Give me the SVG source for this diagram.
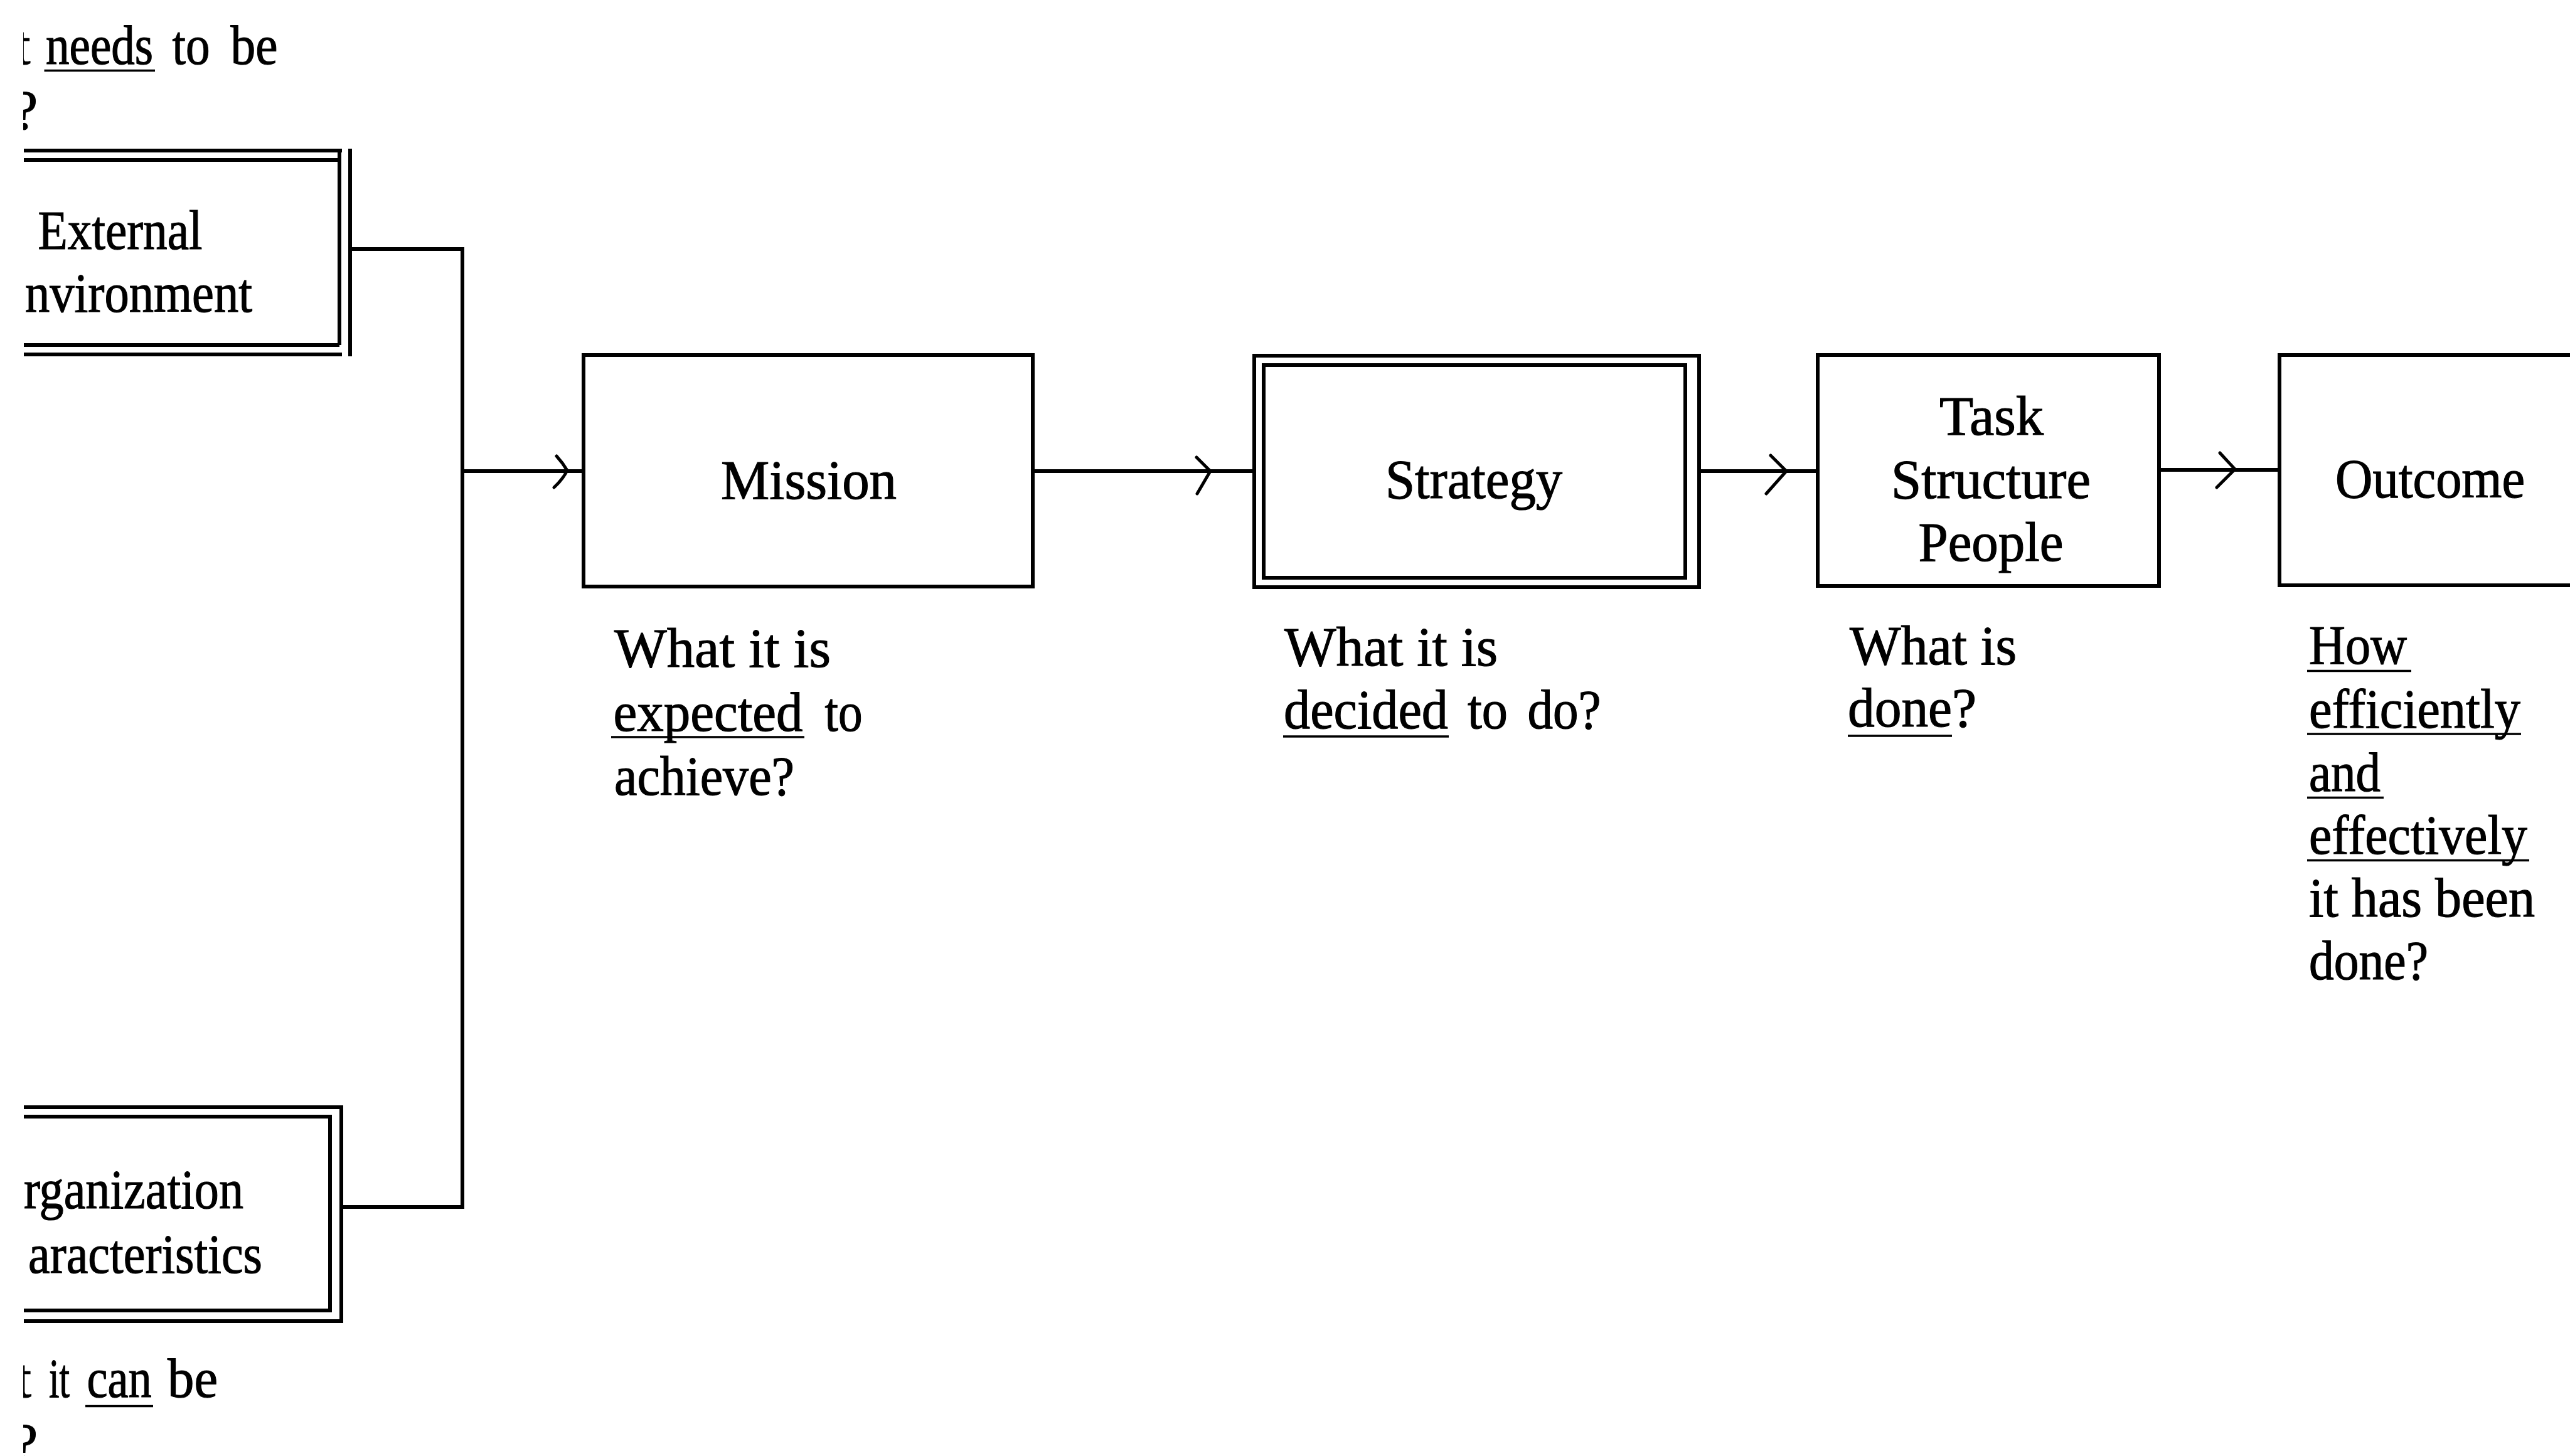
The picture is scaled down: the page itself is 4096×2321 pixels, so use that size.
<svg xmlns="http://www.w3.org/2000/svg" width="4096" height="2321" viewBox="0 0 4096 2321">
  <style>
    .frame { fill: none; stroke: #000; stroke-width: 6; }
    .wire { fill: none; stroke: #000; stroke-width: 6; }
    .head { fill: none; stroke: #000; stroke-width: 5; stroke-linecap: round; stroke-linejoin: round; }
    .ul { stroke: #000; stroke-width: 3.5; }
    text { font-family: "Liberation Serif", "Times New Roman", serif; font-size: 88px; fill: #000; stroke: #000; stroke-width: 1.2; }
    .mid { text-anchor: middle; }
  </style>
  <defs>
    <clipPath id="page">
      <rect x="37" y="0" width="4059" height="2321"/>
    </clipPath>
  </defs>
  <rect width="4096" height="2321" fill="#fff"/>

  <g id="external-environment" clip-path="url(#page)">
    <path class="frame" d="M38,240 H545 M38,255 H541 M541,237 V550 M38,550 H541 M38,565 H545 M558,237 V568"/>
    <text x="60.5" y="397" textLength="262" lengthAdjust="spacingAndGlyphs">External</text>
    <text x="40" y="497" textLength="362" lengthAdjust="spacingAndGlyphs">nvironment</text>
    <text y="102"><tspan x="24">t</tspan> <tspan x="73" textLength="171" lengthAdjust="spacingAndGlyphs">needs</tspan> <tspan x="274.5" textLength="60" lengthAdjust="spacingAndGlyphs">to</tspan> <tspan x="367.5" textLength="75" lengthAdjust="spacingAndGlyphs">be</tspan></text>
    <line class="ul" x1="70.5" y1="112.5" x2="247" y2="112.5"/>
    <text x="21" y="205">?</text>
  </g>

  <g id="organization-characteristics" clip-path="url(#page)">
    <path class="frame" d="M38,1765 H544 V2106 H38 M38,1780 H526 V2089 H38"/>
    <text x="38" y="1926" textLength="350" lengthAdjust="spacingAndGlyphs">rganization</text>
    <text x="45" y="2029" textLength="373" lengthAdjust="spacingAndGlyphs">aracteristics</text>
    <text y="2227"><tspan x="25.5">t</tspan> <tspan x="78" textLength="33" lengthAdjust="spacingAndGlyphs">it</tspan> <tspan x="138.5" textLength="103" lengthAdjust="spacingAndGlyphs">can</tspan> <tspan x="267" textLength="80" lengthAdjust="spacingAndGlyphs">be</tspan></text>
    <line class="ul" x1="136" y1="2241.5" x2="244" y2="2241.5"/>
    <text x="21" y="2330">?</text>
  </g>

  <g id="mission">
    <rect class="frame" x="930" y="566" width="716" height="369"/>
    <text class="mid" x="1289" y="795" textLength="280" lengthAdjust="spacingAndGlyphs">Mission</text>
    <text x="979" y="1063" textLength="345" lengthAdjust="spacingAndGlyphs">What it is</text>
    <text y="1165"><tspan x="977.5" textLength="302" lengthAdjust="spacingAndGlyphs">expected</tspan> <tspan x="1314.5" textLength="60" lengthAdjust="spacingAndGlyphs">to</tspan></text>
    <line class="ul" x1="974" y1="1175" x2="1282" y2="1175"/>
    <text x="979" y="1267" textLength="287" lengthAdjust="spacingAndGlyphs">achieve?</text>
  </g>

  <g id="strategy">
    <rect class="frame" x="1999" y="567" width="709" height="369"/>
    <rect class="frame" x="2014" y="582" width="672" height="339"/>
    <text class="mid" x="2349" y="794" textLength="282" lengthAdjust="spacingAndGlyphs">Strategy</text>
    <text x="2047" y="1061" textLength="340" lengthAdjust="spacingAndGlyphs">What it is</text>
    <text y="1161"><tspan x="2046" textLength="262" lengthAdjust="spacingAndGlyphs">decided</tspan> <tspan x="2339" textLength="64" lengthAdjust="spacingAndGlyphs">to</tspan> <tspan x="2434.5" textLength="117" lengthAdjust="spacingAndGlyphs">do?</tspan></text>
    <line class="ul" x1="2045" y1="1174" x2="2309" y2="1174"/>
  </g>

  <g id="task-structure-people">
    <rect class="frame" x="2897" y="566" width="544" height="368"/>
    <text class="mid" x="3174" y="693" textLength="166" lengthAdjust="spacingAndGlyphs">Task</text>
    <text class="mid" x="3173" y="794" textLength="318" lengthAdjust="spacingAndGlyphs">Structure</text>
    <text class="mid" x="3173" y="894" textLength="231" lengthAdjust="spacingAndGlyphs">People</text>
    <text x="2948" y="1059" textLength="266" lengthAdjust="spacingAndGlyphs">What is</text>
    <text y="1158"><tspan x="2945" textLength="166" lengthAdjust="spacingAndGlyphs">done</tspan><tspan>?</tspan></text>
    <line class="ul" x1="2945" y1="1173" x2="3111" y2="1173"/>
  </g>

  <g id="outcome">
    <rect class="frame" x="3633" y="566" width="520" height="367"/>
    <text x="3722" y="793" textLength="302" lengthAdjust="spacingAndGlyphs">Outcome</text>
    <text x="3680" y="1058" textLength="156" lengthAdjust="spacingAndGlyphs">How</text>
    <line class="ul" x1="3677" y1="1069.5" x2="3843" y2="1069.5"/>
    <text x="3680" y="1160" textLength="337" lengthAdjust="spacingAndGlyphs">efficiently</text>
    <line class="ul" x1="3677" y1="1170" x2="4018" y2="1170"/>
    <text x="3680" y="1261" textLength="114" lengthAdjust="spacingAndGlyphs">and</text>
    <line class="ul" x1="3677" y1="1271.5" x2="3799" y2="1271.5"/>
    <text x="3680" y="1361" textLength="348" lengthAdjust="spacingAndGlyphs">effectively</text>
    <line class="ul" x1="3677" y1="1371.5" x2="4031" y2="1371.5"/>
    <text x="3680" y="1461" textLength="360" lengthAdjust="spacingAndGlyphs">it has been</text>
    <text x="3680" y="1561" textLength="190" lengthAdjust="spacingAndGlyphs">done?</text>
  </g>

  <g id="connectors">
    <!-- bracket joining the two context boxes into the chain -->
    <path class="wire" d="M558,397 H737 M544,1924 H737 M737,394 V1927"/>
    <path class="wire" d="M737,751 H930"/>
    <path class="wire" d="M1646,751 H1999"/>
    <path class="wire" d="M2708,751 H2897"/>
    <path class="wire" d="M3441,749 H3633"/>
    <!-- open chevron heads -->
    <path class="head" d="M887,727 Q897,738 904,750 Q897,764 883,777"/>
    <path class="head" d="M1907,729 L1929,751 L1908,787"/>
    <path class="head" d="M2822,726 L2847,751 L2815,787"/>
    <path class="head" d="M3538,722 L3562,748 L3533,777"/>
  </g>
</svg>
